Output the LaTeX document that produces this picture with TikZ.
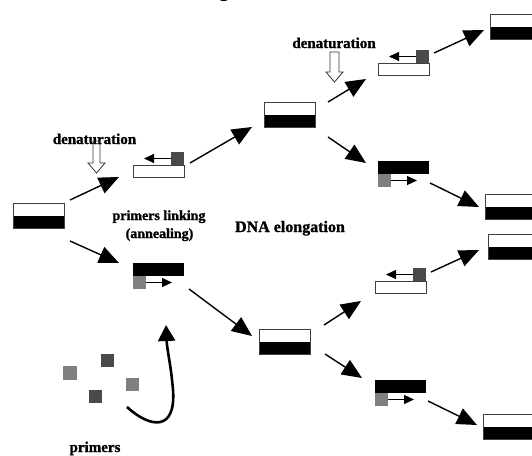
\documentclass[tikz,border=0pt]{standalone}
\usepackage{fontspec}
\setmainfont[BoldFeatures={FakeBold=1.2}]{Liberation Serif}
\newfontfamily\carl{Carlito}
\usetikzlibrary{arrows.meta}
\definecolor{darkprimer}{HTML}{4A4A4A}
\definecolor{greyprimer}{HTML}{808080}
\begin{document}
\begin{tikzpicture}[x=1pt,y=-1pt,
  duplex/.style={rectangle, draw=black!75, line width=0.8pt, fill=white,
    minimum width=51pt, minimum height=25pt, inner sep=0pt, outer sep=0pt,
    path picture={\fill[black] (path picture bounding box.west) rectangle (path picture bounding box.south east);}},
  wstrand/.style={rectangle, draw=black!75, line width=0.8pt, fill=white,
    minimum width=51pt, minimum height=12pt, inner sep=0pt, outer sep=0pt},
  bstrand/.style={rectangle, fill=black, minimum width=51pt, minimum height=13pt,
    inner sep=0pt, outer sep=0pt},
  dprimer/.style={rectangle, fill=darkprimer, minimum size=13pt, inner sep=0pt, outer sep=0pt},
  gprimer/.style={rectangle, fill=greyprimer, minimum size=13pt, inner sep=0pt, outer sep=0pt},
  bigarrow/.style={-{Triangle[length=20pt,width=17pt]}, line width=1.4pt},
  tinyarrow/.style={-{Triangle[length=10pt,width=9pt]}, line width=1.1pt},
  curvearrow/.style={-{Triangle[length=16pt,width=17pt]}, line width=2.6pt},
  hollow/.style={draw=black!80, line width=0.8pt, line join=miter},
  lbl/.style={font=\bfseries\fontsize{15}{15}\selectfont, inner sep=0pt},
  lblsmall/.style={font=\bfseries\fontsize{14}{14}\selectfont, inner sep=0pt},
  lblbig/.style={font=\bfseries\fontsize{16}{16}\selectfont, inner sep=0pt},
  strandA/.pic={
    \node[wstrand, anchor=north west] (-box) at (0,0) {};
    \node[dprimer, anchor=south east] (-p) at (-box.north east) {};
    \coordinate (-tip) at ([xshift=-27pt]-p.west);
    \draw[tinyarrow] (-p.west) -- (-tip);
  },
  strandB/.pic={
    \node[bstrand, anchor=north west] (-box) at (0,0) {};
    \node[gprimer, anchor=north west] (-p) at (-box.south west) {};
    \coordinate (-tip) at ([xshift=26pt]-p.east);
    \draw[tinyarrow] (-p.east) -- (-tip);
  }
]
\useasboundingbox (0,0) rectangle (532,455);

% fragment of cut-off title
\node[font=\carl\fontsize{24}{24}\selectfont, anchor=base, inner sep=0pt] (gfrag) at (224,-2.5) {g};

% duplexes
\node[duplex] (d0) at (38.5,216) {};
\node[duplex] (d1) at (289.5,114.5) {};
\node[duplex] (d2) at (284.5,341.5) {};
\node[duplex] (d3) at (515.5,27) {};
\node[duplex] (d4) at (510.5,206.5) {};
\node[duplex] (d5) at (513.5,247) {};
\node[duplex] (d6) at (508.5,426.5) {};

% single strands with primers
\pic (sA1) at (133,165) {strandA};
\pic (sA2) at (378,63) {strandA};
\pic (sA3) at (375,281) {strandA};
\pic (sB1) at (133,263) {strandB};
\pic (sB2) at (378,161) {strandB};
\pic (sB3) at (375,380) {strandB};

% free primers
\node[gprimer, minimum size=14pt] (p1) at (70,372.5) {};
\node[dprimer, minimum size=13pt] (p2) at (107.5,360.5) {};
\node[gprimer, minimum size=13pt] (p3) at (132.5,384.5) {};
\node[dprimer, minimum size=13pt] (p4) at (95,396) {};

% labels
\node[lbl, anchor=base] (den1) at (94.5,144) {denaturation};
\node[lbl, anchor=base] (den2) at (334,48) {denaturation};
\node[lblsmall, anchor=base] (prl) at (159,220) {primers linking};
\node[lblsmall, anchor=base] (ann) at (159.5,238) {(annealing)};
\node[lblbig, anchor=base] (elo) at (290,232) {DNA elongation};
\node[lbl, anchor=base] (pri) at (95,452) {primers};

% hollow denaturation arrows
\draw[hollow] (93,141) -- (100,141) -- (100,163) -- (105,163) -- (96.5,173) -- (88,163) -- (93,163) -- cycle;
\draw[hollow] (330,52) -- (339,52) -- (339,72) -- (343,72) -- (334.5,82) -- (326,72) -- (330,72) -- cycle;

% arrow end points
\coordinate (a1s) at (70,200);   \coordinate (a1e) at (119,177);
\coordinate (a2s) at (70,241);   \coordinate (a2e) at (119,263);
\coordinate (a3s) at (190,163);  \coordinate (a3e) at (252,127);
\coordinate (a4s) at (189,289);  \coordinate (a4e) at (252,336);
\coordinate (a5s) at (328,102);  \coordinate (a5e) at (366,79);
\coordinate (a6s) at (328,137);  \coordinate (a6e) at (366,163);
\coordinate (a7s) at (434,53);   \coordinate (a7e) at (484,30);
\coordinate (a8s) at (430,183);  \coordinate (a8e) at (479,207);
\coordinate (a9s) at (324,325);  \coordinate (a9e) at (361,301);
\coordinate (a10s) at (325,354); \coordinate (a10e) at (362,378);
\coordinate (a11s) at (431,272); \coordinate (a11e) at (479,250);
\coordinate (a12s) at (428,401); \coordinate (a12e) at (477,425);

\foreach \i in {1,...,12} \draw[bigarrow] (a\i s) -- (a\i e);

% curved primer arrow
\coordinate (cstart) at (127,407);
\coordinate (ctip) at (166,325);
\draw[curvearrow] (cstart) .. controls (150,428) and (176,432) .. (173,390)
  .. controls (171,365) and (167,350) .. (ctip);
\end{tikzpicture}
\end{document}
